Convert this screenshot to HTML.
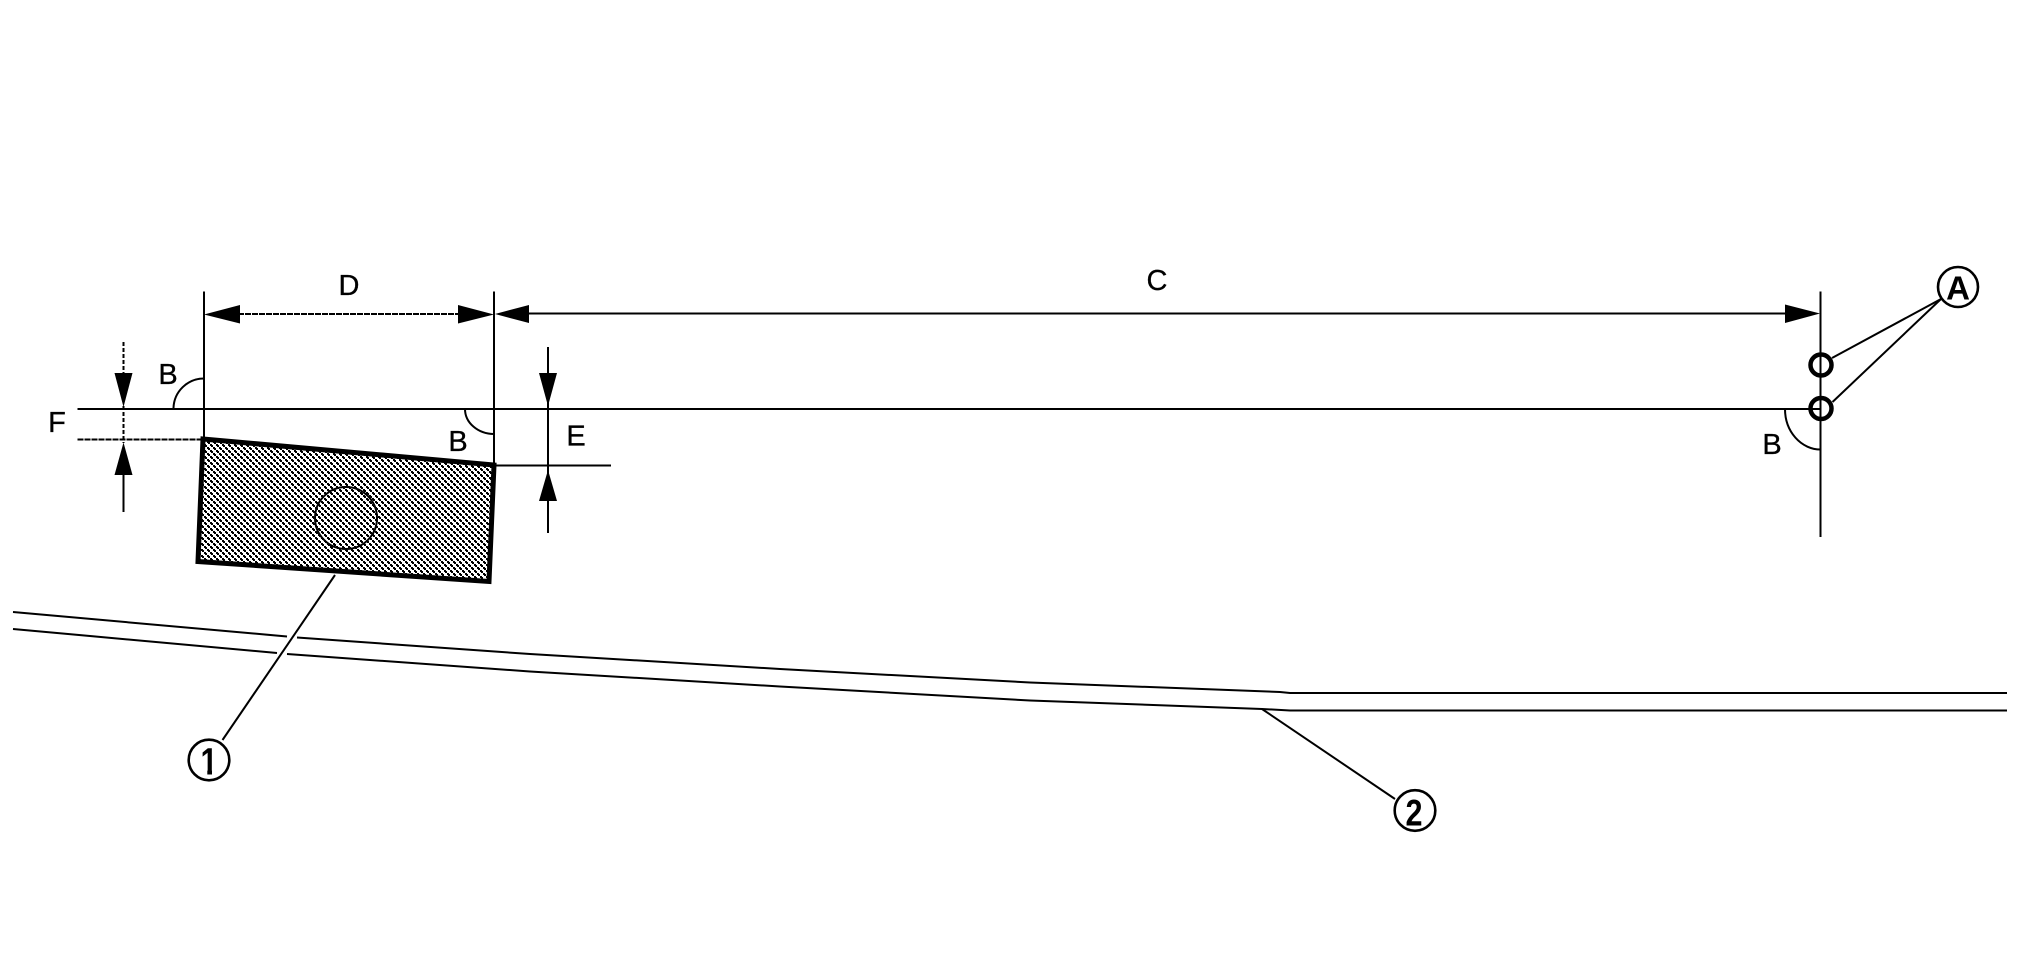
<!DOCTYPE html>
<html>
<head>
<meta charset="utf-8">
<style>
html,body{margin:0;padding:0;background:#fff;}
svg{display:block;}
text{font-family:"Liberation Sans",Arial,sans-serif;fill:#000;text-anchor:middle;}
</style>
</head>
<body>
<svg width="2020" height="969" viewBox="0 0 2020 969" xmlns="http://www.w3.org/2000/svg">
<defs>
<pattern id="dither" width="6" height="6" patternUnits="userSpaceOnUse">
<rect width="6" height="6" fill="#fff"/>
<g shape-rendering="crispEdges" fill="#000">
<rect x="0" y="0" width="2" height="1"/>
<rect x="0" y="1" width="3" height="1"/>
<rect x="1" y="2" width="2" height="1"/>
<rect x="3" y="3" width="2" height="1"/>
<rect x="3" y="4" width="3" height="1"/>
<rect x="4" y="5" width="2" height="1"/>
</g>
</pattern>
</defs>
<rect width="2020" height="969" fill="#fff"/>

<!-- hatched block -->
<polygon points="203,439 494,465 489,581.5 198,561.5" fill="url(#dither)" stroke="#000" stroke-width="5" stroke-linejoin="miter"/>
<circle cx="346" cy="518" r="31" fill="none" stroke="#000" stroke-width="2"/>

<g fill="none" stroke="#000" stroke-width="2">
<!-- verticals -->
<line x1="204" y1="291.5" x2="204" y2="438"/>
<line x1="494" y1="291.5" x2="494" y2="463"/>
<line x1="1820.5" y1="291.5" x2="1820.5" y2="537"/>
<!-- horizontals -->
<line x1="77.5" y1="409" x2="1820" y2="409"/>
<line x1="77.5" y1="439.5" x2="203" y2="439.5" stroke-dasharray="6 1"/>
<line x1="494" y1="465.5" x2="611" y2="465.5"/>
<!-- dimension lines -->
<line x1="238" y1="314" x2="460" y2="314" stroke-dasharray="6 1"/>
<line x1="527" y1="313.5" x2="1787" y2="313.5"/>
<!-- F dimension -->
<line x1="123.5" y1="342" x2="123.5" y2="374" stroke-dasharray="4 2"/>
<line x1="123.5" y1="406" x2="123.5" y2="443" stroke-dasharray="4 2"/>
<line x1="123.5" y1="475" x2="123.5" y2="512"/>
<!-- E dimension -->
<line x1="548" y1="347" x2="548" y2="533"/>
<!-- angle arcs -->
<path d="M173.5,408 A30.5,30.5 0 0 1 204,378.5"/>
<path d="M465,409 A29,25 0 0 0 494,434"/>
<path d="M1785,409 A35.5,40.5 0 0 0 1820.5,449.5"/>
<!-- leaders -->
<line x1="335" y1="575" x2="222.5" y2="740"/>
<line x1="1262" y1="709" x2="1395" y2="799"/>
<line x1="1941" y1="299" x2="1832" y2="358"/>
<line x1="1941" y1="299" x2="1832.5" y2="402"/>
<!-- road upper -->
<polyline points="13,612 287,636.5"/>
<polyline points="297,637.5 530,654 780,669 1030,682.5 1280,692 1290,693 2007,693"/>
<!-- road lower -->
<polyline points="13,629 277,653"/>
<polyline points="287,654 530,671.5 780,686.5 1030,700.5 1262,709 1290,710.5 2007,710.5"/>
</g>

<!-- arrowheads -->
<g fill="#000" stroke="none">
<polygon points="204,314.5 240,305 240,323.5"/>
<polygon points="494,314.5 458,305 458,323.5"/>
<polygon points="495,314 529,305 529,323"/>
<polygon points="1820,313.5 1785,304.5 1785,323"/>
<polygon points="123.5,407 114.5,373 132.5,373"/>
<polygon points="123.5,442.5 114.5,475 132.5,475"/>
<polygon points="548,406 539,373 557,373"/>
<polygon points="548,470 539,501 557,501"/>
</g>

<!-- small circles -->
<g fill="none" stroke="#000" stroke-width="4.5">
<circle cx="1821" cy="365" r="10.5"/>
<circle cx="1821" cy="408.5" r="10.5"/>
</g>

<!-- callout circles -->
<g fill="#fff" stroke="#000" stroke-width="2.6">
<circle cx="209" cy="760" r="20.3"/>
<circle cx="1415" cy="810.5" r="20.3"/>
<circle cx="1958" cy="287" r="20"/>
</g>

<!-- labels -->
<g font-size="29" stroke="#000" stroke-width="0.3">
<text x="349" y="295">D</text>
<text x="1157" y="290">C</text>
<text x="168" y="384">B</text>
<text x="458" y="451">B</text>
<text x="1772" y="454">B</text>
<text x="57" y="432">F</text>
<text x="576" y="445.5">E</text>
</g>
<g font-weight="bold">
<text x="209" y="774.5" font-size="38" textLength="17" lengthAdjust="spacingAndGlyphs">1</text>
<text x="1414" y="825.5" font-size="37" textLength="17" lengthAdjust="spacingAndGlyphs">2</text>
<text x="1958" y="299.5" font-size="33">A</text>
</g>
<!-- trim the foot of the digit 1 so only the plain stem remains -->
<rect x="200" y="768" width="7.3" height="8" fill="#fff"/>
<rect x="212" y="768" width="6" height="8" fill="#fff"/>
</svg>
</body>
</html>
